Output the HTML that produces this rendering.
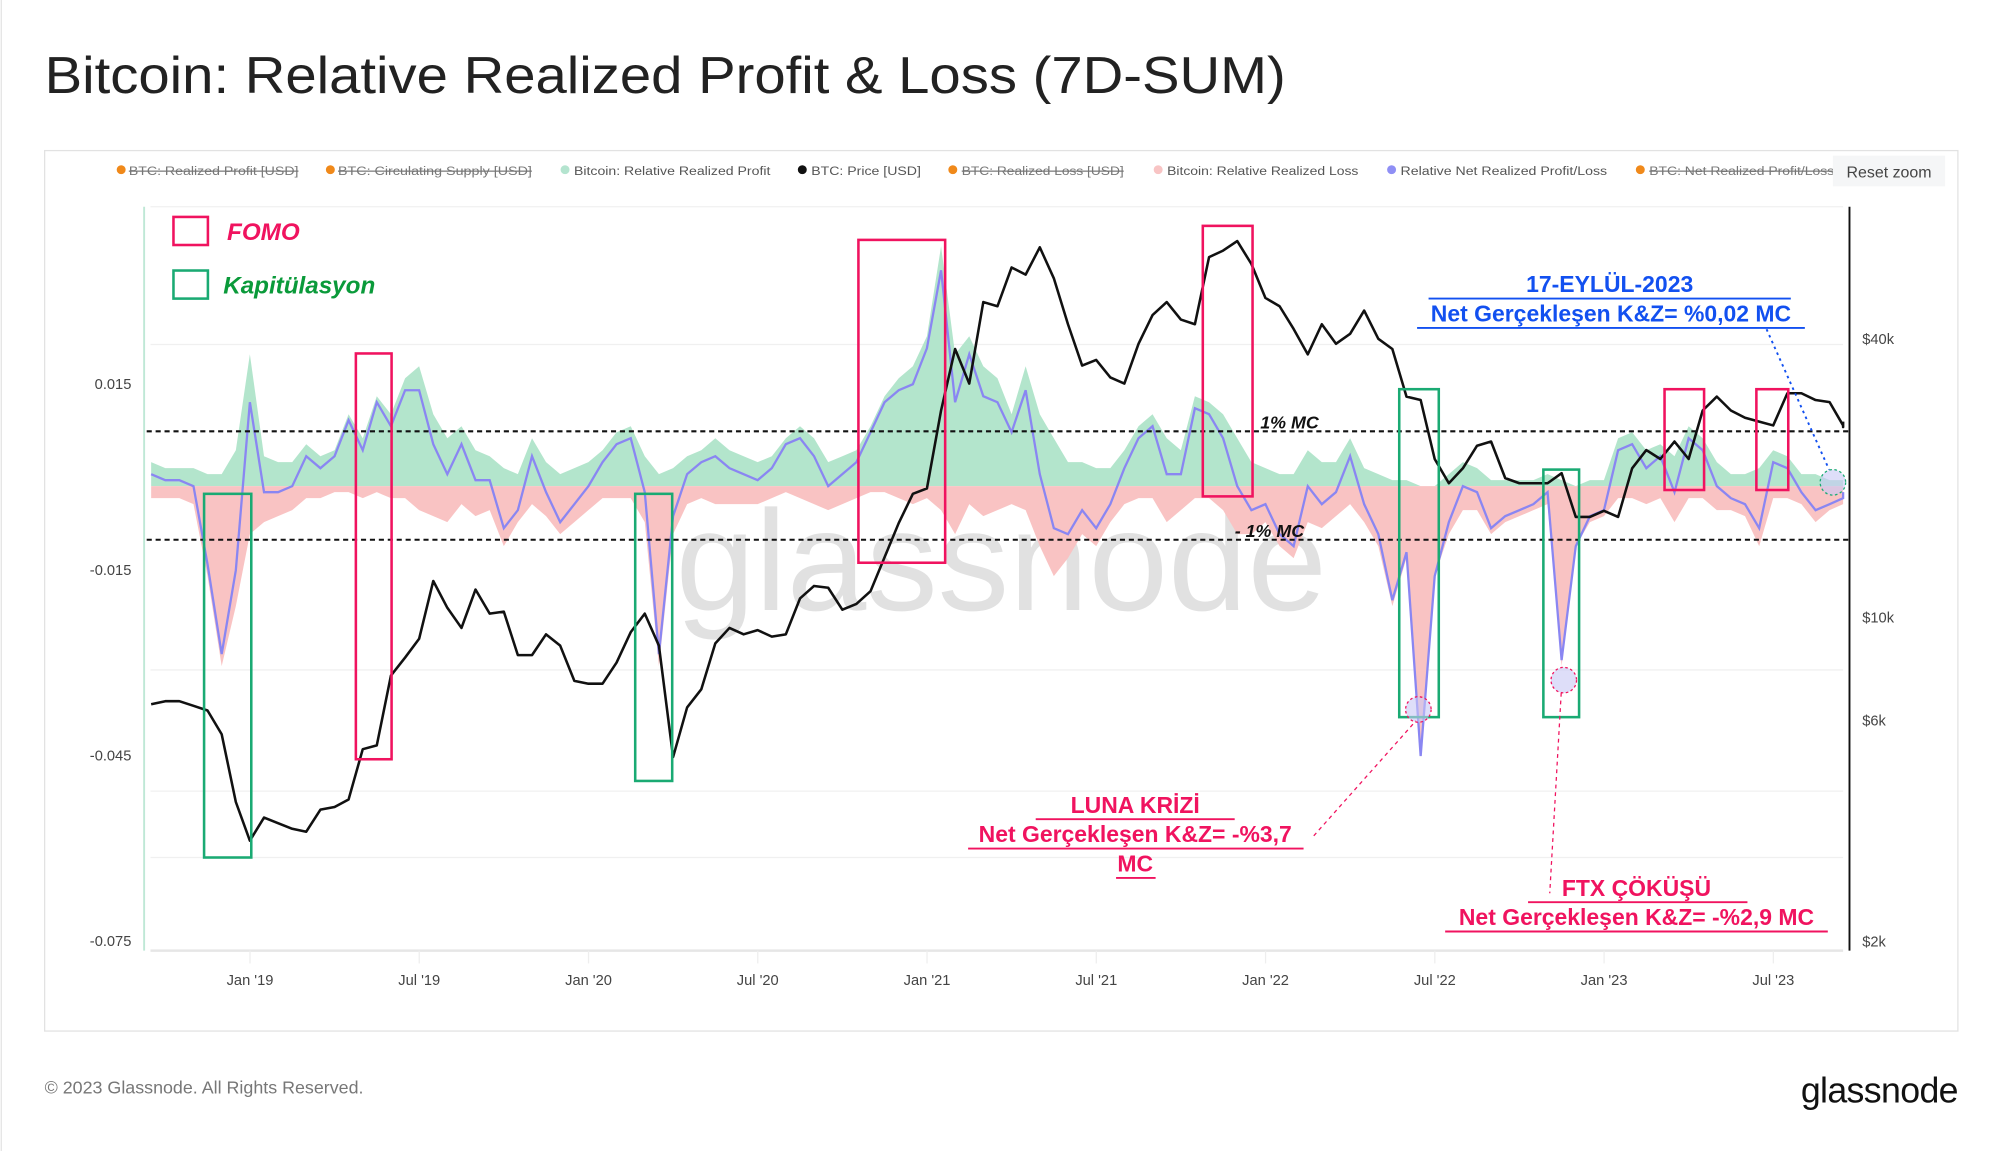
<!DOCTYPE html>
<html><head><meta charset="utf-8">
<style>
html,body{margin:0;padding:0;background:#fff;}
svg{display:block;font-family:"Liberation Sans","DejaVu Sans",sans-serif;}
</style></head>
<body>
<svg id="c" width="2000" height="1151" viewBox="0 0 1568 902" preserveAspectRatio="none" xmlns="http://www.w3.org/2000/svg">
<line x1="1" y1="0" x2="1" y2="902" stroke="#e4e4e4"/>
<text x="35" y="73" font-size="41" fill="#222" textLength="973" lengthAdjust="spacingAndGlyphs">Bitcoin: Relative Realized Profit &amp; Loss (7D-SUM)</text>
<rect x="35" y="118" width="1500" height="690" fill="#fff" stroke="#e2e2e2"/>
<g font-size="9.5" fill="#555">
 <g><circle cx="95" cy="133" r="3.5" fill="#f0891a"/><text x="101" y="137" fill="#777" text-decoration="line-through" textLength="133" lengthAdjust="spacingAndGlyphs">BTC: Realized Profit [USD]</text></g>
 <g><circle cx="259" cy="133" r="3.5" fill="#f0891a"/><text x="265" y="137" fill="#777" text-decoration="line-through" textLength="152" lengthAdjust="spacingAndGlyphs">BTC: Circulating Supply [USD]</text></g>
 <g><circle cx="443" cy="133" r="3.5" fill="#b4e4cf"/><text x="450" y="137" textLength="154" lengthAdjust="spacingAndGlyphs">Bitcoin: Relative Realized Profit</text></g>
 <g><circle cx="629" cy="133" r="3.5" fill="#111"/><text x="636" y="137" textLength="86" lengthAdjust="spacingAndGlyphs">BTC: Price [USD]</text></g>
 <g><circle cx="747" cy="133" r="3.5" fill="#f0891a"/><text x="754" y="137" fill="#777" text-decoration="line-through" textLength="127" lengthAdjust="spacingAndGlyphs">BTC: Realized Loss [USD]</text></g>
 <g><circle cx="908" cy="133" r="3.5" fill="#f8c4c4"/><text x="915" y="137" textLength="150" lengthAdjust="spacingAndGlyphs">Bitcoin: Relative Realized Loss</text></g>
 <g><circle cx="1091" cy="133" r="3.5" fill="#8f8ff5"/><text x="1098" y="137" textLength="162" lengthAdjust="spacingAndGlyphs">Relative Net Realized Profit/Loss</text></g>
 <g><circle cx="1286" cy="133" r="3.5" fill="#f0891a"/><text x="1293" y="137" fill="#777" text-decoration="line-through" textLength="145" lengthAdjust="spacingAndGlyphs">BTC: Net Realized Profit/Loss</text></g>
</g>
<rect x="1437" y="122" width="88" height="24" fill="#f5f6f7"/>
<text x="1481" y="139" font-size="12.5" fill="#444" text-anchor="middle">Reset zoom</text>
<g id="grid"></g>
<text x="785" y="478" font-size="112" fill="#d4d4d4" fill-opacity="0.7" text-anchor="middle">glassnode</text>
<g id="plot"></g>
<line x1="113" y1="162" x2="113" y2="745" stroke="#bfe8d6" stroke-width="1.5"/>
<line x1="1450" y1="162" x2="1450" y2="745" stroke="#111" stroke-width="1.5"/>
<line x1="118" y1="745" x2="1445" y2="745" stroke="#e6e6e6" stroke-width="2"/>
<g id="axes" font-size="11.5" fill="#444"></g>
<g>
 <line x1="115" y1="338" x2="1450" y2="338" stroke="#111" stroke-width="1.6" stroke-dasharray="4 3"/>
 <line x1="115" y1="423" x2="1450" y2="423" stroke="#111" stroke-width="1.6" stroke-dasharray="4 3"/>
 <text x="988" y="336" font-size="14" font-weight="bold" font-style="italic" fill="#111">1% MC</text>
 <text x="968" y="421" font-size="14" font-weight="bold" font-style="italic" fill="#111">- 1% MC</text>
 <g fill="none" stroke="#f0135f" stroke-width="2">
  <rect x="279" y="277" width="28" height="318"/><rect x="673" y="188" width="68" height="253"/>
  <rect x="943" y="177" width="39" height="212"/><rect x="1305" y="305" width="31" height="79"/>
  <rect x="1377" y="305" width="25" height="79"/>
 </g>
 <g fill="none" stroke="#1aaa73" stroke-width="2">
  <rect x="160" y="387" width="37" height="285"/><rect x="498" y="387" width="29" height="225"/>
  <rect x="1097" y="305" width="31" height="257"/><rect x="1210" y="368" width="28" height="194"/>
 </g>
 <rect x="136" y="170" width="27" height="22" fill="#fff" stroke="#f0135f" stroke-width="2"/>
 <text x="178" y="188" font-size="19" font-weight="bold" font-style="italic" fill="#f0135f">FOMO</text>
 <rect x="136" y="212" width="27" height="22" fill="#fff" stroke="#1aaa73" stroke-width="2"/>
 <text x="175" y="230" font-size="19" font-weight="bold" font-style="italic" fill="#0a9a3a">Kapitülasyon</text>
 <circle cx="1112" cy="556" r="10" fill="#c8c8f5" fill-opacity="0.6" stroke="#f0135f" stroke-dasharray="2 2"/>
 <circle cx="1226" cy="533" r="10" fill="#c8c8f5" fill-opacity="0.6" stroke="#f0135f" stroke-dasharray="2 2"/>
 <circle cx="1437" cy="378" r="10" fill="#c8c8f5" fill-opacity="0.6" stroke="#1aaa73" stroke-dasharray="2 2"/>
 <line x1="1030" y1="655" x2="1110" y2="565" stroke="#f0135f" stroke-dasharray="3 3"/>
 <line x1="1224" y1="543" x2="1215" y2="700" stroke="#f0135f" stroke-dasharray="3 3"/>
 <line x1="1385" y1="258" x2="1434" y2="368" stroke="#1250f0" stroke-width="1.5" stroke-dasharray="2 3"/>
 <g font-size="18" font-weight="bold" fill="#1250f0" text-anchor="middle">
  <text x="1262" y="229">17-EYLÜL-2023</text>
  <line x1="1120" y1="234" x2="1404" y2="234" stroke="#1250f0" stroke-width="1.5"/>
  <text x="1263" y="252">Net Gerçekleşen K&amp;Z= %0,02 MC</text>
  <line x1="1111" y1="257" x2="1415" y2="257" stroke="#1250f0" stroke-width="1.5"/>
 </g>
 <g font-size="18" font-weight="bold" fill="#f0135f" text-anchor="middle">
  <text x="890" y="637">LUNA KRİZİ</text>
  <line x1="812" y1="642" x2="968" y2="642" stroke="#f0135f" stroke-width="1.5"/>
  <text x="890" y="660">Net Gerçekleşen K&amp;Z= -%3,7</text>
  <line x1="759" y1="665" x2="1022" y2="665" stroke="#f0135f" stroke-width="1.5"/>
  <text x="890" y="683">MC</text>
  <line x1="875" y1="688" x2="906" y2="688" stroke="#f0135f" stroke-width="1.5"/>
 </g>
 <g font-size="18" font-weight="bold" fill="#f0135f" text-anchor="middle">
  <text x="1283" y="702">FTX ÇÖKÜŞÜ</text>
  <line x1="1198" y1="707" x2="1370" y2="707" stroke="#f0135f" stroke-width="1.5"/>
  <text x="1283" y="725">Net Gerçekleşen K&amp;Z= -%2,9 MC</text>
  <line x1="1133" y1="730" x2="1433" y2="730" stroke="#f0135f" stroke-width="1.5"/>
 </g>
</g>
<text x="35" y="857" font-size="14" fill="#777">© 2023 Glassnode. All Rights Reserved.</text>
<text x="1535" y="864" font-size="28" fill="#111" text-anchor="end" letter-spacing="-0.5">glassnode</text>
</svg>
<script>
// half-month samples starting mid-Sep 2018
const startYear = 2018.708;
const xTickLabels = ["Jan '19","Jul '19","Jan '20","Jul '20","Jan '21","Jul '21","Jan '22","Jul '22","Jan '23","Jul '23"];
const xTickYears = [2019,2019.5,2020,2020.5,2021,2021.5,2022,2022.5,2023,2023.5];
const leftTickLabels = ["0.015","-0.015","-0.045","-0.075"];
const leftTickValues = [0.015,-0.015,-0.045,-0.075];
const rightTickLabels = ["$40k","$10k","$6k","$2k"];
const rightTickValues = [40000,10000,6000,2000];
const price = [6500,6600,6600,6450,6300,5600,4000,3300,3700,
 3600,3500,3450,3850,3900,4050,5200,5300,7500,8200,9000,12000,10500,9500,11500,10200,10300,8300,8300,9200,8700,7300,7200,7200,
 8000,9300,10200,8700,5000,6400,7000,8800,9500,9200,9400,9100,9200,11000,11700,11600,10400,10700,11400,13500,16000,18500,19000,28000,
 38000,32000,48000,47000,57000,55000,63000,54000,43000,35000,36000,33000,32000,39000,45000,48000,44000,43000,60000,62000,65000,58000,49000,47000,
 42000,37000,43000,39000,41000,46000,40000,38000,30000,29500,22000,19500,21000,23500,24000,20000,19500,19500,19500,20500,16500,16500,17000,16500,
 21000,23000,22000,24000,22000,28000,30000,28000,27000,26500,26000,30500,30500,29500,29200,26000,25800,26500];
const profit = [.004,.003,.003,.003,.002,.002,.006,.022,
 .005,.004,.004,.007,.005,.006,.012,.008,.015,.012,.018,.020,.012,.008,.010,.006,.005,.003,.002,.008,.004,.002,.003,.004,
 .006,.009,.010,.005,.002,.003,.005,.006,.008,.006,.005,.004,.005,.008,.010,.008,.004,.005,.006,.010,.015,.018,.020,.025,
 .040,.022,.025,.020,.018,.012,.020,.012,.008,.004,.004,.003,.003,.006,.010,.012,.008,.006,.015,.014,.012,.008,.004,.003,
 .002,.002,.006,.004,.004,.008,.003,.002,.001,.001,.000,.000,.002,.004,.003,.001,.001,.001,.001,.002,.001,.000,.001,.001,
 .008,.009,.006,.007,.005,.010,.008,.004,.002,.002,.003,.006,.005,.002,.002,.001,.001,.001];
const loss = [-.002,-.002,-.002,-.003,-.015,-.030,-.020,-.008,
 -.006,-.005,-.004,-.002,-.002,-.001,-.001,-.002,-.001,-.002,-.002,-.004,-.005,-.006,-.003,-.005,-.004,-.010,-.006,-.003,-.005,-.008,-.006,-.004,
 -.002,-.002,-.002,-.006,-.030,-.008,-.003,-.002,-.003,-.003,-.003,-.003,-.002,-.001,-.002,-.003,-.004,-.003,-.002,-.001,-.001,-.002,-.003,-.002,
 -.004,-.008,-.003,-.005,-.004,-.003,-.004,-.010,-.015,-.012,-.008,-.010,-.006,-.003,-.002,-.002,-.006,-.004,-.002,-.002,-.004,-.008,-.008,-.006,
 -.010,-.012,-.006,-.007,-.005,-.003,-.006,-.010,-.020,-.012,-.045,-.015,-.008,-.004,-.004,-.008,-.006,-.005,-.004,-.003,-.030,-.010,-.006,-.005,
 -.002,-.002,-.003,-.002,-.006,-.002,-.002,-.004,-.004,-.005,-.010,-.002,-.002,-.003,-.006,-.004,-.003,-.002];

const NS = "http://www.w3.org/2000/svg";
const X0 = 118, X1 = 1445;
function xOfYear(yr){ return 196 + (yr - 2019) * 265.4; }
function xOf(i){ return Math.min(X1, xOfYear(startYear + i / 24)); }
function yL(v){ return 381 - v * 4700; }
function yR(p){ return 484 - (Math.log10(p) - 4) * 363; }
function mk(tag, attrs, parent){ const e = document.createElementNS(NS, tag); for (const k in attrs) e.setAttribute(k, attrs[k]); parent.appendChild(e); return e; }

const grid = document.getElementById('grid');
const plot = document.getElementById('plot');
const axes = document.getElementById('axes');

[162,270,525,620,672].forEach(function(y){
  const g = mk('line', {x1:118, x2:1445, y1:y, y2:y, stroke:'#f0f0f0'}, grid);
  
  
});

function area(vals, fill, name){
  let d = 'M' + xOf(0) + ',' + yL(0);
  vals.forEach(function(v, i){ d += ' L' + xOf(i).toFixed(1) + ',' + yL(v).toFixed(1); });
  d += ' L' + xOf(vals.length - 1) + ',' + yL(0) + ' Z';
  const p = mk('path', {d:d, fill:fill}, plot);
  
  
}
area(profit, '#b3e5cc', 'relative-profit-area');
area(loss, '#f9c3c3', 'relative-loss-area');

const net = profit.map(function(v, i){ return v + loss[i]; });
let dn = '';
net.forEach(function(v, i){ dn += (i ? ' L' : 'M') + xOf(i).toFixed(1) + ',' + yL(v).toFixed(1); });
const netLine = mk('path', {d:dn, fill:'none', stroke:'#8a86f2', 'stroke-width':1.8}, plot);



let dp = '';
price.forEach(function(p, i){ dp += (i ? ' L' : 'M') + xOf(i).toFixed(1) + ',' + yR(p).toFixed(1); });
const priceLine = mk('path', {d:dp, fill:'none', stroke:'#111', 'stroke-width':2, 'stroke-linejoin':'round'}, plot);



xTickLabels.forEach(function(lab, i){
  const x = xOfYear(xTickYears[i]);
  const t = mk('line', {x1:x, x2:x, y1:745, y2:755, stroke:'#eee'}, axes);
  
  
  const tx = mk('text', {x:x, y:772, 'text-anchor':'middle'}, axes);
  tx.textContent = lab;
  
  
});
leftTickLabels.forEach(function(lab, i){
  const tx = mk('text', {x:103, y:(301 + (0.015 - leftTickValues[i]) * 4850 + 4).toFixed(1), 'text-anchor':'end'}, axes);
  tx.textContent = lab;
  
  
});
rightTickLabels.forEach(function(lab, i){
  const tx = mk('text', {x:1460, y:(yR(rightTickValues[i]) + 4).toFixed(1)}, axes);
  tx.textContent = lab;
  
  
});
</script>
</body></html>
